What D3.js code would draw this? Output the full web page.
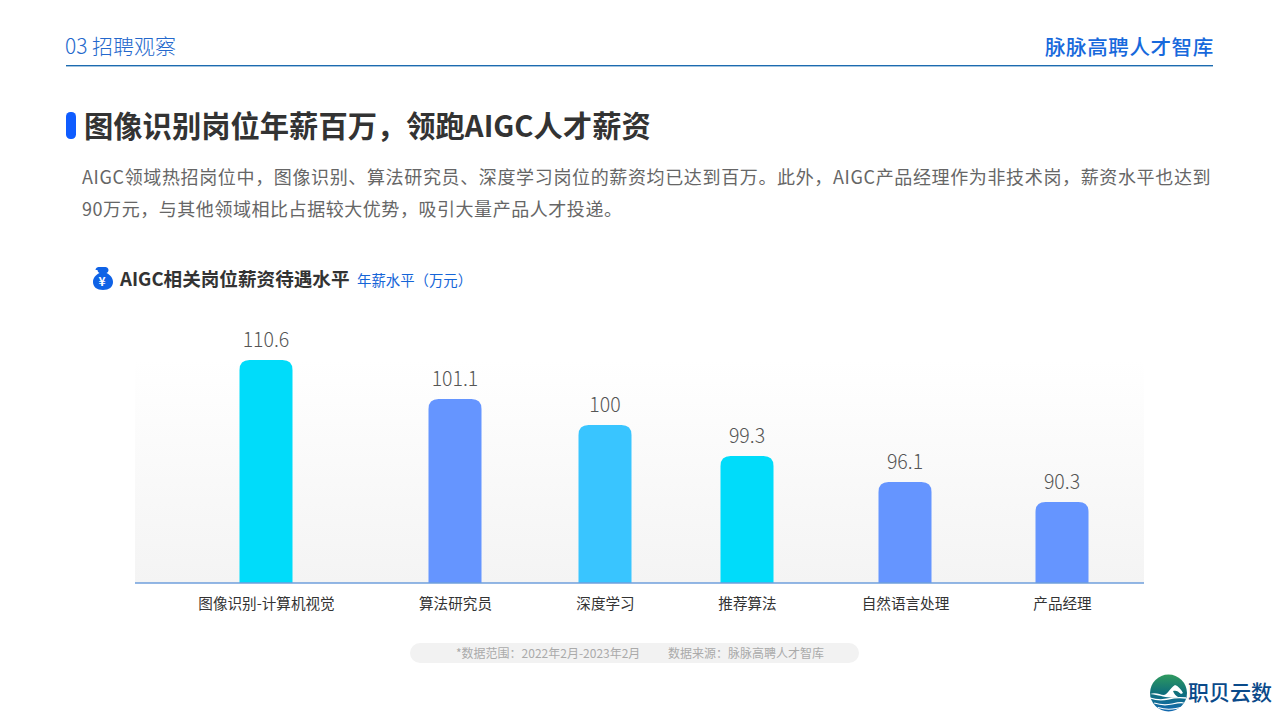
<!DOCTYPE html>
<html lang="zh"><head><meta charset="utf-8">
<script src="https://cdn.jsdelivr.net/npm/d3@7/dist/d3.min.js"></script>
<style>html,body{margin:0;padding:0;background:#fff;overflow:hidden}svg{display:block}text{font-family:"Noto Sans CJK SC","Noto Sans",sans-serif}</style>
</head><body><div id="c"></div>
<script>
const categories = ["图像识别-计算机视觉","算法研究员","深度学习","推荐算法","自然语言处理","产品经理"];
const salaries = [110.6,101.1,100,99.3,96.1,90.3];
const salaryLabels = ["110.6","101.1","100","99.3","96.1","90.3"];
const colors = ["#00DCFA","#6595FF","#39C5FF","#00DCFA","#6595FF","#6595FF"];

const W=1279,H=718;
const svg=d3.select("#c").append("svg").attr("width",W).attr("height",H).attr("viewBox",`0 0 ${W} ${H}`);
const defs=svg.append("defs");
const g1=defs.append("linearGradient").attr("id","panel").attr("x1",0).attr("x2",0).attr("y1",0).attr("y2",1);
g1.append("stop").attr("offset","0").attr("stop-color","#ffffff");
g1.append("stop").attr("offset","1").attr("stop-color","#f4f4f4");
const g2=defs.append("linearGradient").attr("id","globe").attr("x1",0).attr("x2",0).attr("y1",0).attr("y2",1);
g2.append("stop").attr("offset","0").attr("stop-color","#2f9a5f");
g2.append("stop").attr("offset","0.5").attr("stop-color","#0f6f7a");
g2.append("stop").attr("offset","1").attr("stop-color","#1268b0");

function t(x,y,s,o={}){
  const e=svg.append("text").attr("x",x).attr("y",y).text(s)
   .attr("font-size",o.size||14).attr("fill",o.fill||"#333")
   .attr("font-weight",o.weight||400).attr("text-anchor",o.anchor||"start");
  if(o.ls!==undefined)e.attr("letter-spacing",o.ls);
  return e;
}
// header
t(65,54,"03 招聘观察",{size:21,fill:"#2468CC",weight:300});
t(1045,55,"脉脉高聘人才智库",{size:20.5,fill:"#1769DC",weight:500,ls:.6});
svg.append("rect").attr("x",66).attr("y",65).attr("width",1147).attr("height",1.4).attr("fill","#1c6bb0");
// heading
svg.append("rect").attr("x",66).attr("y",112).attr("width",10).attr("height",27).attr("rx",4.5).attr("fill","#0F5CFF");
t(84,137,"图像识别岗位年薪百万，领跑AIGC人才薪资",{size:29.3,weight:700,fill:"#333"});
t(82,184,"AIGC领域热招岗位中，图像识别、算法研究员、深度学习岗位的薪资均已达到百万。此外，AIGC产品经理作为非技术岗，薪资水平也达到",{size:18,fill:"#666",ls:.64});
t(82,216,"90万元，与其他领域相比占据较大优势，吸引大量产品人才投递。",{size:18,fill:"#666",ls:.55});
// chart title
svg.append("path").attr("fill","#0F62E6").attr("d","M95.500 270c0-2 2-3 3-3h7c1 0 3 1 3 3 0 1.500-1 2.500-2 3 4 2 6.500 5 6.500 9 0 5-4 8-10 8s-10-3-10-8c0-4 2.500-7 6.500-9-1-.5-2-1.500-2-3z");
svg.append("text").attr("x",102).attr("y",286).attr("text-anchor","middle").attr("font-size",12).attr("font-weight",700).attr("fill","#fff").text("¥");
t(120,286,"AIGC相关岗位薪资待遇水平",{size:18.6,weight:700,fill:"#333"});
t(357,286,"年薪水平（万元）",{size:14.4,fill:"#1565D8"});

// chart
const baseY=583;
const xPos=d3.scaleOrdinal().domain(categories).range([266,455,605,747,905,1062]);
// The source's bars are not proportional to their values: piecewise scale.
const y=d3.scaleLinear().domain([90.3,96.1,99.3,100,101.1,110.6]).range([502,482,456,425,399,360]);
const barW=53,r=10;
svg.append("rect").attr("x",135).attr("y",360).attr("width",1009).attr("height",baseY-360).attr("fill","url(#panel)");
const rows=categories.map((c,i)=>({c,v:salaries[i],l:salaryLabels[i],col:colors[i]}));
svg.selectAll(".bar").data(rows).join("path").attr("class","bar").attr("fill",d=>d.col)
 .attr("d",d=>{const x=xPos(d.c)-barW/2,t=y(d.v);
   return `M${x} ${baseY}V${t+r}Q${x} ${t} ${x+r} ${t}H${x+barW-r}Q${x+barW} ${t} ${x+barW} ${t+r}V${baseY}Z`;});
svg.selectAll(".val").data(rows).join("text").attr("class","val").attr("x",d=>xPos(d.c)).attr("y",d=>y(d.v)-13.5)
 .attr("text-anchor","middle").attr("font-size",19.500).attr("font-weight",300).attr("fill","#555").text(d=>d.l);
const axis=d3.axisBottom(d3.scaleOrdinal().domain(categories).range(categories.map(xPos))).tickSize(0).tickPadding(15.500);
const ag=svg.append("g").attr("transform",`translate(0,${baseY})`);
ag.call(axis);
ag.selectAll("text").attr("font-size",14.6).attr("fill","#333").style("font-family",'"Noto Sans CJK SC"');
ag.select(".domain").remove();
ag.append("line").attr("x1",135).attr("x2",1144).attr("y1",0).attr("y2",0).attr("stroke","#6f9fdc").attr("stroke-width",1.4);

// footer
svg.append("rect").attr("x",410).attr("y",643).attr("width",449).attr("height",20).attr("rx",10).attr("fill","#f2f2f2");
t(456,658,"*数据范围：2022年2月-2023年2月",{size:12,fill:"#aaa"});
t(668,658,"数据来源：脉脉高聘人才智库",{size:12,fill:"#aaa"});
// logo
svg.append("circle").attr("cx",1168.500).attr("cy",693).attr("r",18.500).attr("fill","url(#globe)");
svg.append("path").attr("fill","#fff").attr("d","M1150 694c6-2 10 1 14 1 4-1 6-7 11-10 3 1 6 4 8 8l-2 1c-3-3-5-4-8-3 1 3 3 5 5 6-9 2-14-1-28-3z");
[[698,1.3],[703,1.2],[707.500,1.1]].forEach(([yy,w])=>svg.append("path").attr("fill","none").attr("stroke","#fff").attr("stroke-width",w)
  .attr("d",`M${1150+(yy-698)/1.200} ${yy}q9 3 18 1t${18-(yy-698)*1.300} -1`));
t(1188,700,"职贝云数",{size:21,weight:500,fill:"#0A4A8A"});
</script></body></html>
